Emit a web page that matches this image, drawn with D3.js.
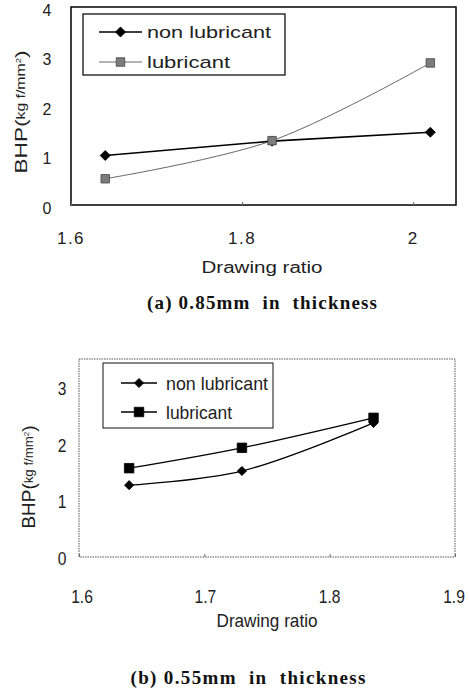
<!DOCTYPE html>
<html>
<head>
<meta charset="utf-8">
<script src="https://cdn.jsdelivr.net/npm/d3@7"></script>
<style>
  body { margin: 0; background: #fff; }
  svg { display: block; }
</style>
</head>
<body>
<div id="chart"></div>
<script>
// data
var seriesNames = ["non lubricant", "lubricant"];

var topRatio    = [1.64, 1.835, 2.02];
var topNonLub   = [1.0, 1.29, 1.47];
var topLub      = [0.53, 1.3, 2.87];
var topXTicks   = [1.6, 1.8, 2];
var topYTicks   = [0, 1, 2, 3, 4];

var botRatio    = [1.64, 1.73, 1.835];
var botNonLub   = [1.27, 1.52, 2.37];
var botLub      = [1.57, 1.93, 2.46];
var botXTicks   = [1.6, 1.7, 1.8, 1.9];
var botYTicks   = [0, 1, 2, 3];

var captions = ["(a) 0.85mm  in  thickness", "(b) 0.55mm  in  thickness"];
var xTitle = "Drawing ratio";

var width = 469, height = 695;

var svg = d3.select("#chart").append("svg")
    .attr("width", width)
    .attr("height", height);

//squeeze texts horizontally, no narrow font installed
function squeeze(sel, k){
  if (k == 1) return;
  sel.each(function(){
    var w = this.getComputedTextLength();
    d3.select(this).attr("textLength", w * k).attr("lengthAdjust", "spacingAndGlyphs");
  });
}

function marker(sel, st){
  sel.attr("d", d3.symbol().type(d3.symbolSquare).size(st.size))
    .attr("fill", st.fill)
    .attr("stroke", st.mstroke)
    .attr("stroke-width", 0.8);
}

function drawChart(cfg){
  var g = svg.append("g");

  var x = d3.scaleLinear().domain(cfg.xDomain).range([cfg.left, cfg.right]);
  var y = d3.scaleLinear().domain(cfg.yDomain).range([cfg.bottom, cfg.top]);

  //plot frame
  g.append("rect")
    .attr("x", cfg.left)
    .attr("y", cfg.top)
    .attr("width", cfg.right - cfg.left)
    .attr("height", cfg.bottom - cfg.top)
    .attr("fill", "none")
    .attr("stroke", cfg.frameColor)
    .attr("stroke-width", cfg.frameWidth)
    .attr("stroke-dasharray", cfg.frameDash);

  //small inner tick marks on the x axis
  var xAxis = d3.axisBottom(x).tickValues(cfg.xTicks).tickSize(-3).tickFormat("");
  g.append("g")
    .attr("transform", "translate(0," + cfg.bottom + ")")
    .call(xAxis)
    .call(function(s){ s.select(".domain").remove(); })
    .selectAll("line").attr("stroke", "#666");

  //tick labels
  var xl = g.append("g").selectAll("text")
    .data(cfg.xTicks)
    .enter().append("text")
    .attr("x", function(d, i){ return x(d) + cfg.xLabelShift[i]; })
    .attr("y", cfg.xLabelY)
    .attr("text-anchor", "middle")
    .attr("dy", "0.35em")
    .style("font-family", cfg.font)
    .style("font-size", cfg.xTickSize + "px")
    .style("letter-spacing", cfg.spacing + "px")
    .style("fill", "#222")
    .text(function(d){ return d; });
  squeeze(xl, cfg.squeeze);

  var yl = g.append("g").selectAll("text")
    .data(cfg.yTicks)
    .enter().append("text")
    .attr("x", cfg.yLabelX)
    .attr("y", function(d){ return y(d) + cfg.yLabelShift; })
    .attr("text-anchor", "middle")
    .attr("dy", "0.35em")
    .style("font-family", cfg.font)
    .style("font-size", cfg.yTickSize + "px")
    .style("fill", "#222")
    .text(function(d){ return d; });
  squeeze(yl, cfg.squeeze);

  //axis titles
  g.append("text")
    .attr("x", cfg.xTitlePos[0])
    .attr("y", cfg.xTitlePos[1])
    .attr("text-anchor", "middle")
    .attr("dy", "0.35em")
    .attr("textLength", cfg.xTitleLen)
    .attr("lengthAdjust", "spacingAndGlyphs")
    .style("font-family", cfg.font)
    .style("font-size", cfg.xTitleSize + "px")
    .style("fill", "#222")
    .text(xTitle);

  var yt = g.append("text")
    .attr("transform", "translate(" + cfg.yTitlePos[0] + "," + cfg.yTitlePos[1] + ") rotate(-90)")
    .attr("text-anchor", "middle")
    .attr("textLength", cfg.yTitleLen)
    .attr("lengthAdjust", "spacingAndGlyphs")
    .style("font-family", cfg.font)
    .style("font-size", cfg.yTitleSize + "px")
    .style("fill", "#222");
  yt.append("tspan").text("BHP(");
  yt.append("tspan").attr("dy", -2).style("font-size", (cfg.yTitleSize * 0.7) + "px").text("kg f/mm");
  yt.append("tspan").attr("dy", -4).style("font-size", (cfg.yTitleSize * 0.42) + "px").text("2");
  yt.append("tspan").attr("dy", 6).text(")");

  //lines
  var series = [
    {name: seriesNames[0], vals: cfg.nonLub, style: cfg.styles[0]},
    {name: seriesNames[1], vals: cfg.lub, style: cfg.styles[1]}
  ];

  series.forEach(function(s){
    var pts = s.vals.map(function(v, i){ return [cfg.ratio[i], v]; });
    var line = d3.line()
      .x(function(d){ return x(d[0]); })
      .y(function(d){ return y(d[1]); })
      .curve(s.style.smooth ? d3.curveCatmullRom.alpha(0.5) : d3.curveLinear);
    g.append("path")
      .datum(pts)
      .attr("d", line)
      .attr("fill", "none")
      .attr("stroke", s.style.stroke)
      .attr("stroke-width", s.style.width);
    g.append("g").selectAll("path")
      .data(pts)
      .enter().append("path")
      .attr("transform", function(d){
        return "translate(" + x(d[0]) + "," + y(d[1]) + ")" + (s.style.diamond ? " rotate(45)" : "");
      })
      .call(marker, s.style);
  });

  //legend
  var lg = cfg.legend;
  g.append("rect")
    .attr("x", lg.x)
    .attr("y", lg.y)
    .attr("width", lg.w)
    .attr("height", lg.h)
    .attr("fill", "#fff")
    .attr("stroke", "#111")
    .attr("stroke-width", lg.stroke);

  series.forEach(function(s, i){
    var ly = lg.rows[i];
    g.append("line")
      .attr("x1", lg.lineX[0]).attr("x2", lg.lineX[1])
      .attr("y1", ly).attr("y2", ly)
      .attr("stroke", s.style.stroke)
      .attr("stroke-width", s.style.width);
    g.append("path")
      .attr("transform", "translate(" + ((lg.lineX[0] + lg.lineX[1]) / 2) + "," + ly + ")" + (s.style.diamond ? " rotate(45)" : ""))
      .call(marker, s.style);
    g.append("text")
      .attr("x", lg.textX)
      .attr("y", ly)
      .attr("dy", "0.35em")
      .attr("textLength", lg.textLen[i])
      .attr("lengthAdjust", "spacingAndGlyphs")
      .style("font-family", cfg.font)
      .style("font-size", lg.size + "px")
      .style("fill", "#222")
      .text(s.name);
  });

  //caption below the chart
  g.append("text")
    .attr("x", cfg.capPos[0])
    .attr("y", cfg.capPos[1])
    .attr("text-anchor", "middle")
    .attr("dy", "0.35em")
    .attr("textLength", cfg.capLen)
    .attr("lengthAdjust", "spacing")
    .style("font-family", "'Liberation Serif', 'Times New Roman', serif")
    .style("font-weight", "bold")
    .style("font-size", "19px")
    .style("white-space", "pre")
    .style("fill", "#111")
    .text(cfg.caption);
}

// (a) 0.85mm
drawChart({
  left: 71, right: 456, top: 7, bottom: 205,
  xDomain: [1.6, 2.05], yDomain: [0, 4],
  xTicks: topXTicks, yTicks: topYTicks,
  ratio: topRatio, nonLub: topNonLub, lub: topLub,
  frameColor: "#111", frameWidth: 1.6, frameDash: null,
  font: "'Liberation Sans', Arial, sans-serif", spacing: 1.5, squeeze: 1,
  xTickSize: 17, yTickSize: 16, xLabelY: 238, xLabelShift: [0, 0, 0],
  yLabelX: 47, yLabelShift: 3,
  xTitlePos: [262, 267], xTitleLen: 121, xTitleSize: 16,
  yTitlePos: [27, 112], yTitleLen: 123, yTitleSize: 17,
  styles: [
    {stroke: "#000", width: 1.6, smooth: false, diamond: true, size: 50, fill: "#000", mstroke: "#000"},
    {stroke: "#555", width: 0.9, smooth: true, diamond: false, size: 72, fill: "#7d7d7d", mstroke: "#444"}
  ],
  legend: {x: 83, y: 14, w: 202, h: 61, stroke: 1.3, rows: [32, 62], lineX: [99, 142],
           textX: 147, textLen: [124, 83], size: 17},
  caption: captions[0], capPos: [262, 302], capLen: 230
});

// (b) 0.55mm
drawChart({
  left: 79, right: 455, top: 359, bottom: 557,
  xDomain: [1.6, 1.9], yDomain: [0, 3.5],
  xTicks: botXTicks, yTicks: botYTicks,
  ratio: botRatio, nonLub: botNonLub, lub: botLub,
  frameColor: "#555", frameWidth: 1, frameDash: "1.5,1",
  font: "'Liberation Sans', Arial, sans-serif", spacing: 0, squeeze: 0.82,
  xTickSize: 19, yTickSize: 19, xLabelY: 596, xLabelShift: [3, 1, 0, -1],
  yLabelX: 62, yLabelShift: 1,
  xTitlePos: [267, 620], xTitleLen: 101, xTitleSize: 19,
  yTitlePos: [35, 477], yTitleLen: 103, yTitleSize: 19,
  styles: [
    {stroke: "#000", width: 1.3, smooth: true, diamond: true, size: 42, fill: "#000", mstroke: "#000"},
    {stroke: "#000", width: 1.3, smooth: true, diamond: false, size: 90, fill: "#000", mstroke: "#000"}
  ],
  legend: {x: 103, y: 363, w: 170, h: 65, stroke: 1, rows: [383, 412], lineX: [121, 157],
           textX: 166, textLen: [102, 66], size: 19},
  caption: captions[1], capPos: [248, 677], capLen: 235
});
</script>
</body>
</html>
